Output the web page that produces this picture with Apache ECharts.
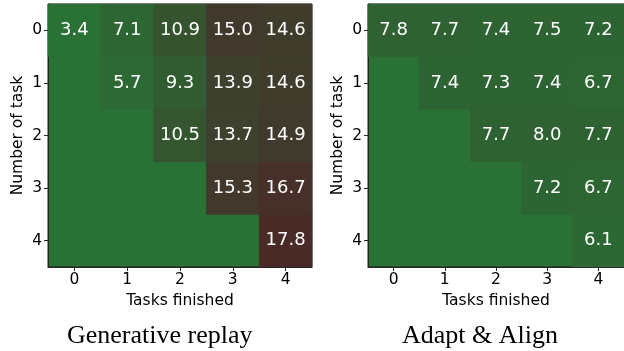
<!DOCTYPE html>
<html><head><meta charset="utf-8">
<script src="https://cdn.jsdelivr.net/npm/echarts@6/dist/echarts.min.js"></script>
<style>html,body{margin:0;padding:0;background:#fff}#c{width:624px;height:351px}</style>
</head><body><div id="c"></div>
<script>
const xLabels = ['0','1','2','3','4'];
const yLabels = ['0','1','2','3','4'];
const generativeReplay = [
  [3.4, 7.1, 10.9, 15.0, 14.6],
  [null, 5.7, 9.3, 13.9, 14.6],
  [null, null, 10.5, 13.7, 14.9],
  [null, null, null, 15.3, 16.7],
  [null, null, null, null, 17.8]
];
const adaptAlign = [
  [7.8, 7.7, 7.4, 7.5, 7.2],
  [null, 7.4, 7.3, 7.4, 6.7],
  [null, null, 7.7, 8.0, 7.7],
  [null, null, null, 7.2, 6.7],
  [null, null, null, null, 6.1]
];
const titles = ['Generative replay', 'Adapt & Align'];

function toData(m){
  const out=[];
  m.forEach((row,r)=>row.forEach((v,c)=>{ if(v!==null) out.push([c,r,v]); }));
  return out;
}
const font = 'DejaVu Sans';
const grids = [{left:48, top:4, width:264, height:263},{left:368, top:4, width:264, height:263}];
const option = {
  animation:false,
  backgroundColor:'#fff',
  title: titles.map((t,i)=>({
    text:t, left: i===0?62:397, top:318, padding:5,
    textStyle:{fontFamily:'Liberation Serif', fontSize:26, fontWeight:'normal', color:'#000'}
  })),
  grid: grids.map(g=>Object.assign({show:true, backgroundColor:'#2a7135', borderColor:'#222', borderWidth:1}, g)),
  visualMap:{show:false, type:'continuous', min:3.4, max:17.8, seriesIndex:[0,1],
    inRange:{color:['#2a7135','#2d6533','#34552f','#3e3e2d','#4a2a27']}},
  xAxis:[0,1].map(i=>({
    type:'category', gridIndex:i, data:xLabels,
    name:'Tasks finished', nameLocation:'middle', nameGap:23,
    nameTextStyle:{fontFamily:font, fontSize:15.5, color:'#000'},
    axisLine:{show:true, lineStyle:{color:'#222'}},
    axisTick:{show:true, alignWithLabel:true, length:4, lineStyle:{color:'#222'}},
    axisLabel:{fontFamily:font, fontSize:15.5, color:'#000', margin:5},
    splitLine:{show:false}, splitArea:{show:false}
  })),
  yAxis:[0,1].map(i=>({
    type:'category', gridIndex:i, data:yLabels, inverse:true,
    name:'Number of task', nameLocation:'middle', nameGap:22,
    nameTextStyle:{fontFamily:font, fontSize:15.5, color:'#000'},
    axisLine:{show:true, lineStyle:{color:'#222'}},
    axisTick:{show:true, alignWithLabel:true, length:4, lineStyle:{color:'#222'}},
    axisLabel:{fontFamily:font, fontSize:15.5, color:'#000', margin:6},
    splitLine:{show:false}, splitArea:{show:false}
  })),
  series:[generativeReplay, adaptAlign].map((m,i)=>({
    type:'heatmap', xAxisIndex:i, yAxisIndex:i, data:toData(m),
    label:{show:true, color:'#fff', fontFamily:font, fontSize:18,
      formatter:p=>p.value[2].toFixed(1)},
    itemStyle:{borderWidth:0},
    emphasis:{disabled:true}
  }))
};
const chart = echarts.init(document.getElementById('c'), null, {renderer:'canvas'});
chart.setOption(option);
</script></body></html>
